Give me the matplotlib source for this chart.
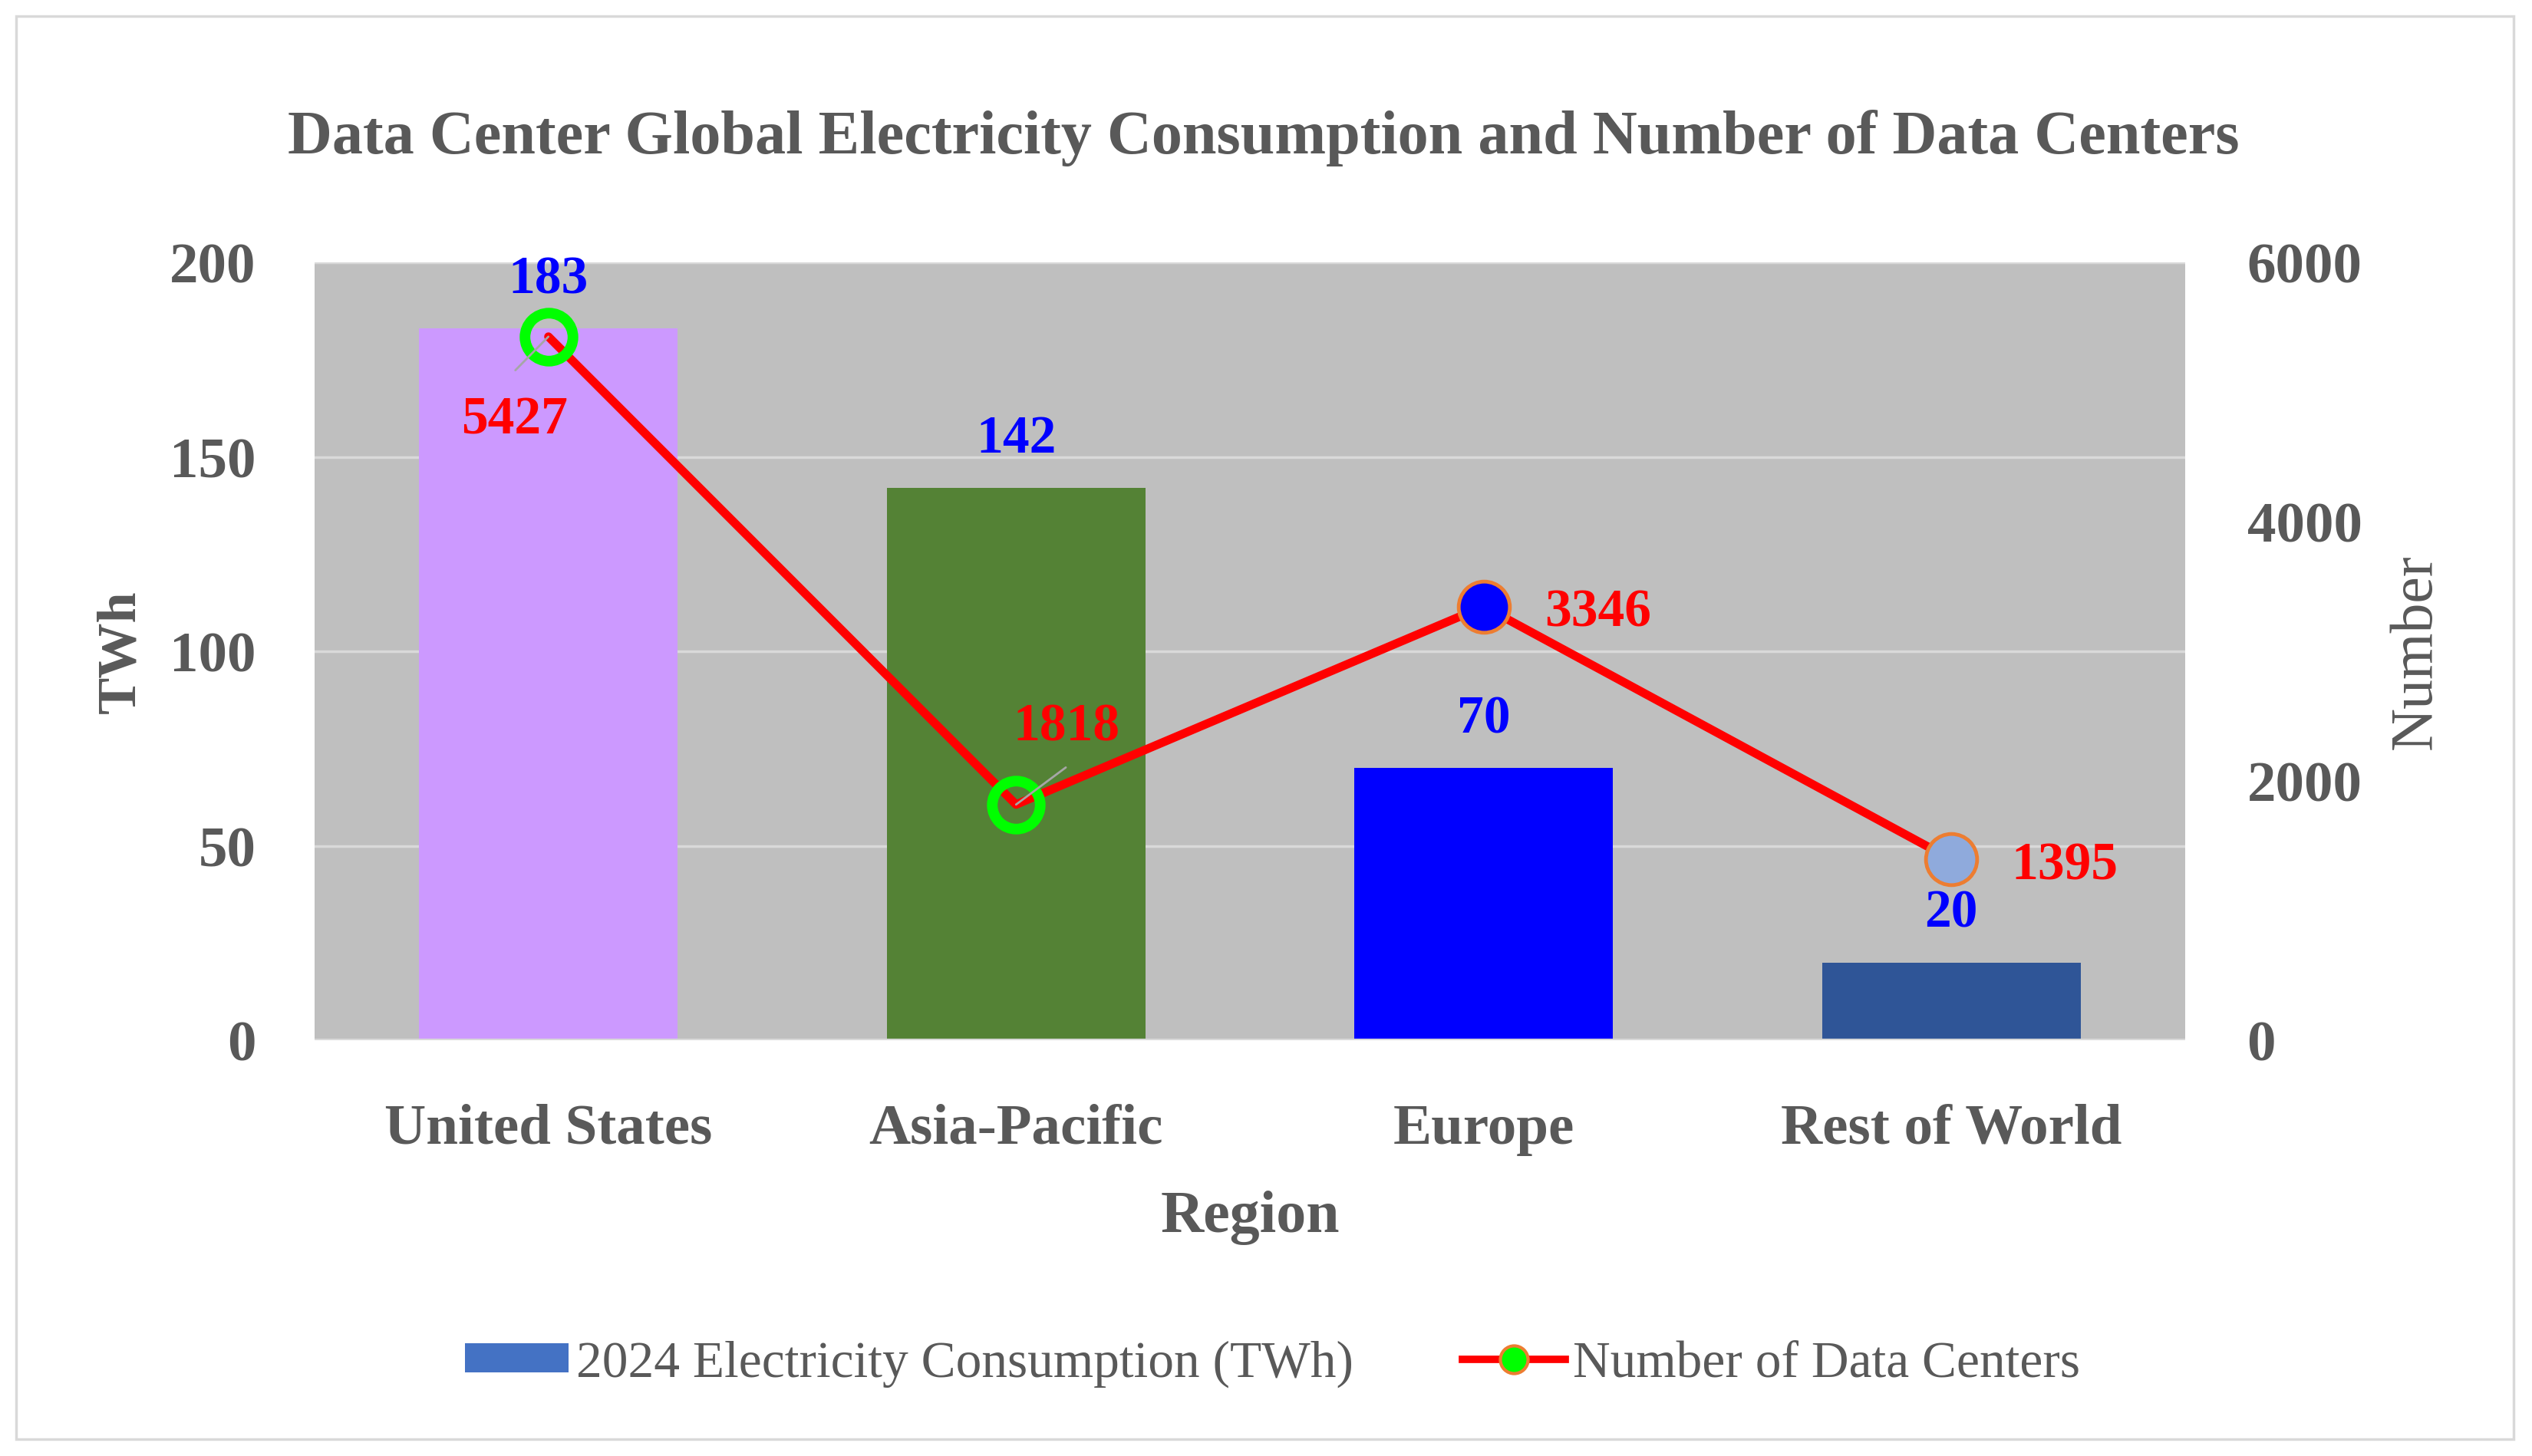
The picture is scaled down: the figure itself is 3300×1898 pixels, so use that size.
import matplotlib
matplotlib.use("Agg")
import matplotlib.pyplot as plt
from matplotlib.patches import Rectangle, Patch
from matplotlib.lines import Line2D

plt.rcParams['font.family'] = ['Liberation Serif', 'DejaVu Serif']

# ---- data ----
regions = ["United States", "Asia-Pacific", "Europe", "Rest of World"]
consumption = [183, 142, 70, 20]
data_centers = [5427, 1818, 3346, 1395]
left_ticks = [0, 50, 100, 150, 200]
right_ticks = [0, 2000, 4000, 6000]
title = "Data Center Global Electricity Consumption and Number of Data Centers"
bar_label = "2024 Electricity Consumption (TWh)"
line_label = "Number of Data Centers"

# ---- styles ----
bar_colors = ["#cc99ff", "#548235", "#0000ff", "#2f5597"]
mk_face = ["none", "none", "#0000ff", "#8faadc"]
mk_edge = ["#00ff00", "#00ff00", "#ed7d31", "#ed7d31"]
mk_size = [45, 45, 48, 48]
mk_ew = [10, 10, 3.5, 3.5]
red_offsets = [(-32, -78), (47, 73), (107, -6), (106, -6)]
leader = [(0.28, 1.0, 30), (0.7, 0.0, 22), None, None]
gray = "#595959"

fig = plt.figure(figsize=(33, 18.99), dpi=100)
fig.patches.append(Rectangle((21 / 3300, 22 / 1899), (3276 - 21) / 3300, (1877 - 22) / 1899,
                             transform=fig.transFigure, fill=False,
                             edgecolor="#d9d9d9", linewidth=2.5, zorder=0))

ax = fig.add_axes([410 / 3300, 542 / 1899, 2438 / 3300, 1014 / 1899])
ax.set_facecolor("#bfbfbf")
x = list(range(len(regions)))
ax.bar(x, consumption, width=0.553, color=bar_colors, zorder=2)
ax.set_xlim(-0.5, len(regions) - 0.5)
ax.set_ylim(0, 200)
ax.set_yticks(left_ticks)
ax.set_axisbelow(True)
ax.yaxis.grid(True, color="#d9d9d9", linewidth=2.5)
for s in ax.spines.values():
    s.set_visible(False)
ax.axhline(0, color="#d9d9d9", linewidth=3, zorder=3)
ax.set_xticks(x)
ax.set_xticklabels(regions)
ax.tick_params(axis='both', length=0, colors=gray, labelsize=54)
ax.tick_params(axis='y', pad=55)
ax.tick_params(axis='x', pad=59)
for lbl in ax.get_xticklabels() + ax.get_yticklabels():
    lbl.set_fontweight('bold')

ax.set_ylabel("TWh", fontsize=52, fontweight='bold', color=gray)
ax.yaxis.set_label_coords(-0.09, 0.5)
ax.set_xlabel("Region", fontsize=56, fontweight='bold', color=gray)
ax.xaxis.set_label_coords(0.5, -0.192)

for i, v in enumerate(consumption):
    ax.annotate(str(v), (x[i], v), xytext=(0, 46), textcoords='offset points',
                ha='center', va='center', fontsize=50, fontweight='bold',
                color='#0000ff', zorder=6)

ax2 = ax.twinx()
ax2.set_ylim(0, 6000)
ax2.set_yticks(right_ticks)
for s in ax2.spines.values():
    s.set_visible(False)
ax2.tick_params(axis='y', length=0, colors=gray, labelsize=54, pad=58)
for lbl in ax2.get_yticklabels():
    lbl.set_fontweight('bold')
ax2.set_ylabel("Number", fontsize=56, color=gray)
ax2.yaxis.set_label_coords(1.109, 0.5)

ax2.plot(x, data_centers, color="#ff0000", linewidth=8, zorder=3, solid_capstyle='round')
for i, v in enumerate(data_centers):
    ax2.plot([x[i]], [v], marker='o', markersize=mk_size[i], markerfacecolor=mk_face[i],
             markeredgecolor=mk_edge[i], markeredgewidth=mk_ew[i], linestyle='none', zorder=4)
    if leader[i] is not None:
        rx, ry, sh = leader[i]
        ax2.annotate(str(v), (x[i], v), xytext=red_offsets[i], textcoords='offset points',
                     ha='center', va='center', fontsize=50, fontweight='bold', color='#ff0000',
                     zorder=6,
                     arrowprops=dict(arrowstyle='-', color='#a6a6a6', linewidth=2,
                                     relpos=(rx, ry), shrinkA=sh, shrinkB=0))
    else:
        ax2.annotate(str(v), (x[i], v), xytext=red_offsets[i], textcoords='offset points',
                     ha='center', va='center', fontsize=50, fontweight='bold', color='#ff0000',
                     zorder=6)

fig.text(0.499, 0.905, title, ha='center', va='center', fontsize=57.8, fontweight='bold', color=gray)

handles = [Patch(facecolor="#4472c4", edgecolor='none'),
           Line2D([0], [0], color="#ff0000", linewidth=7, marker='o', markersize=26,
                  markerfacecolor="#00ff00", markeredgecolor="#ed7d31", markeredgewidth=3)]
leg = fig.legend(handles, [bar_label, line_label], loc='center', bbox_to_anchor=(0.5027, 0.0635),
                 ncol=2, frameon=False, fontsize=48.5, handlelength=2.0, handletextpad=0.15,
                 columnspacing=2.1, handleheight=0.5)
for t in leg.get_texts():
    t.set_color(gray)

fig.savefig("out.png", dpi=100)
